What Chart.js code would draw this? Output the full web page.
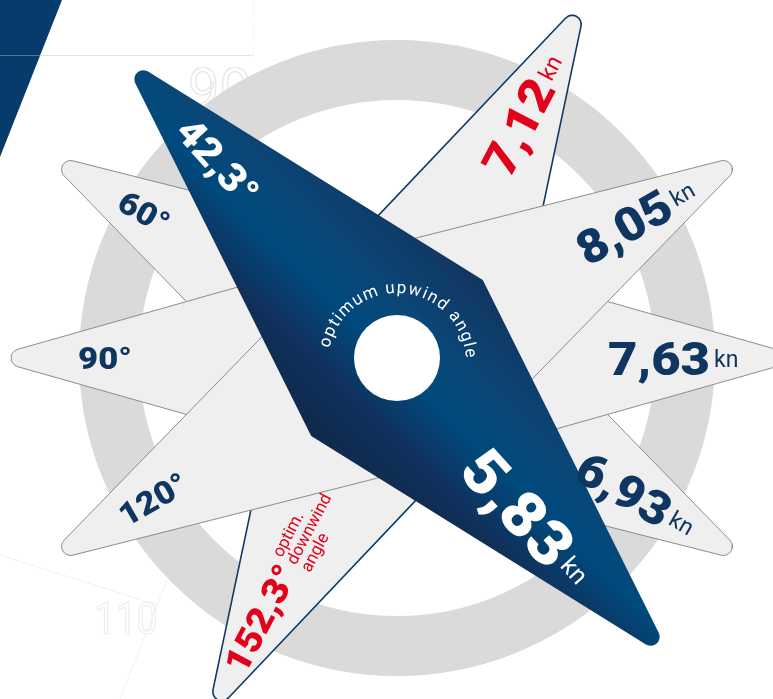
<!DOCTYPE html>
<html>
<head>
<meta charset="utf-8">
<script src="https://cdn.jsdelivr.net/npm/chart.js@4.4.1/dist/chart.umd.min.js"></script>
<style>
  html, body { margin: 0; padding: 0; background: #fff; overflow: hidden; }
  canvas { display: block; }
</style>
</head>
<body>
<canvas id="polar" width="773" height="699"></canvas>
<script>
// true wind angles (deg) and the boat speed (kn) sailed at each of them
const angles = [42.3, 60, 90, 120, 152.3];
const speeds = [5.83, 6.93, 7.63, 8.05, 7.12];
// which spike sits on top (0 = top)
const layer = [0, 3, 2, 1, 4];
// faint numbers left in the background
const ghostLabels = ['90', '110'];

const angleLabels = angles.map(a => String(a).replace('.', ',') + '°');
const speedLabels = speeds.map(s => s.toFixed(2).replace('.', ','));

const CX = 397, CY = 358;          // hub of the star, in px
const SPIKE_LEN = 410, DARK_LEN = 410, SPIKE_HALF = 116, TIP_R = 9;
const NAVY = '#0f3561', RED = '#e2001a';
const FONT = 'Roboto, "Open Sans", sans-serif';

// point at distance "along" on the angle side of a spike, "perp" across it
function unitAt(deg, along, perp) {
  const t = deg * Math.PI / 180;
  return {
    x: along * -Math.sin(t) + perp * Math.cos(t),
    y: along * Math.cos(t) + perp * Math.sin(t)
  };
}

// thin kite through the hub, rounded at both tips
function spikePoints(deg, len) {
  const a = Math.atan(SPIKE_HALF / len);
  const c = len - TIP_R / Math.sin(a);
  const pts = [];
  [1, -1].forEach(s => {
    for (let k = 0; k <= 8; k++) {
      const f = -(Math.PI / 2 - a) + k * (Math.PI - 2 * a) / 8;
      const p = unitAt(deg, s * (c + TIP_R * Math.cos(f)), s * TIP_R * Math.sin(f));
      pts.push(p);
    }
    pts.push(unitAt(deg, 0, s * SPIKE_HALF));
  });
  pts.push(pts[0]);
  return pts;
}

function darkFill(context) {
  const ch = context.chart;
  if (!ch.chartArea) return NAVY;
  const xs = ch.scales.x, ys = ch.scales.y;
  const p0 = unitAt(angles[0] + 3, 0, -125), p1 = unitAt(angles[0] + 3, 0, 125);
  const g = ch.ctx.createLinearGradient(xs.getPixelForValue(p0.x), ys.getPixelForValue(p0.y),
                                        xs.getPixelForValue(p1.x), ys.getPixelForValue(p1.y));
  g.addColorStop(0, '#0e2848');
  g.addColorStop(0.25, '#10305a');
  g.addColorStop(0.48, '#004a7d');
  g.addColorStop(0.68, '#0a4676');
  g.addColorStop(1, '#13335c');
  return g;
}

const datasets = angles.map((a, i) => ({
  label: angleLabels[i],
  data: spikePoints(a, i === 0 ? DARK_LEN : SPIKE_LEN),
  order: layer[i],
  fill: 'shape',
  backgroundColor: i === 0 ? darkFill : '#efefef',
  borderColor: i === 0 ? 'rgba(0,0,0,0)' : (i === 4 ? '#0d3a66' : '#8c8c8c'),
  borderWidth: i === 0 ? 0 : (i === 4 ? 1.6 : 1),
  borderJoinStyle: 'round',
  pointRadius: 0,
  tension: 0
}));
// grey ring behind the star
datasets.push({
  data: [{x: 0, y: 0}], order: 10, showLine: false, borderWidth: 0,
  pointRadius: 288, pointBorderWidth: 60,
  pointBorderColor: '#dadada', pointBackgroundColor: 'rgba(0,0,0,0)'
});
// hole in the hub
datasets.push({
  data: [{x: 0, y: 0}], order: -1, showLine: false, borderWidth: 0,
  pointRadius: 43, pointBorderWidth: 0,
  pointBorderColor: '#fff', pointBackgroundColor: '#fff'
});

function toPx(chart, deg, along, perp) {
  const p = unitAt(deg, along, perp);
  return [chart.scales.x.getPixelForValue(p.x), chart.scales.y.getPixelForValue(p.y)];
}

const SX = 1.08;
function stretchText(ctx, txt, x, y, size, weight, color, align) {
  ctx.font = weight + ' ' + size + 'px ' + FONT;
  const w = ctx.measureText(txt).width * SX;
  ctx.save();
  ctx.translate(x, y);
  ctx.scale(SX, 1);
  ctx.fillStyle = color;
  ctx.textAlign = align || 'center';
  ctx.fillText(txt, 0, 0);
  ctx.restore();
  return w;
}

const angleDist = [266, 292, 292, 282, 294];
const angleSize = [39, 32, 32, 32, 36];
const angleColor = ['#fff', NAVY, NAVY, NAVY, RED];
const speedDist = [192, 262, 262, 262, 261];
const speedPerp = [-11, 0, 0, 0, 0];
const speedSize = [62, 47, 47, 47, 47];
const speedColor = ['#fff', NAVY, NAVY, NAVY, RED];

const starLabels = {
  id: 'starLabels',
  beforeDatasetsDraw(chart) {
    const ctx = chart.ctx;
    ctx.save();
    // corner of the page decoration
    ctx.fillStyle = '#063b6b';
    ctx.beginPath();
    ctx.moveTo(0, 0); ctx.lineTo(62, 0); ctx.lineTo(0, 157); ctx.closePath();
    ctx.fill();
    ctx.strokeStyle = 'rgba(190,190,190,0.45)';
    ctx.lineWidth = 1;
    ctx.beginPath(); ctx.moveTo(0, 55.5); ctx.lineTo(253, 55.5); ctx.stroke();
    ctx.setLineDash([1, 2]);
    ctx.strokeStyle = '#ececec';
    ctx.beginPath(); ctx.moveTo(253.5, 0); ctx.lineTo(253.5, 62); ctx.stroke();
    ctx.setLineDash([]);
    ctx.strokeStyle = '#f0f0f0';
    ctx.beginPath(); ctx.moveTo(0, 555); ctx.lineTo(157, 605); ctx.stroke();
    ctx.beginPath(); ctx.moveTo(167, 580); ctx.lineTo(120, 699); ctx.stroke();
    // ghost numbers
    ctx.lineWidth = 1.2;
    ctx.strokeStyle = '#e6e6e6';
    ctx.font = '56px ' + FONT;
    ctx.textAlign = 'left';
    ctx.strokeText(ghostLabels[0], 188, 108);
    ctx.strokeStyle = '#ececec';
    ctx.font = '44px ' + FONT;
    ctx.textAlign = 'center';
    ctx.save(); ctx.translate(126, 634); ctx.scale(0.85, 1);
    ctx.strokeText(ghostLabels[1], 0, 0);
    ctx.restore();
    ctx.restore();
  },
  afterDatasetsDraw(chart) {
    const ctx = chart.ctx;
    ctx.save();
    ctx.textBaseline = 'alphabetic';
    angles.forEach((a, i) => {
      const rot = (90 - a) * Math.PI / 180;
      // angle label on the windward arm
      let [x, y] = toPx(chart, a, angleDist[i], 0);
      ctx.save();
      ctx.translate(x, y); ctx.rotate(rot);
      const sz = angleSize[i];
      const w = stretchText(ctx, angleLabels[i], 0, sz * 0.355, sz, '900', angleColor[i]);
      if (i === 4) {
        ['optim.', 'downwind', 'angle'].forEach((t, k) => {
          ctx.font = '17px ' + FONT;
          ctx.fillStyle = RED;
          ctx.textAlign = 'left';
          ctx.fillText(t, w / 2 + 5, -14 + k * 16 + 5);
        });
      }
      ctx.restore();
      // speed label on the opposite arm
      [x, y] = toPx(chart, a, -speedDist[i], speedPerp[i]);
      ctx.save();
      ctx.translate(x, y); ctx.rotate(rot);
      const ss = speedSize[i];
      const ws = stretchText(ctx, speedLabels[i], 0, ss * 0.355, ss, '900', speedColor[i]);
      const ks = i === 0 ? 25 : 23;
      ctx.font = ks + 'px ' + FONT;
      ctx.fillStyle = speedColor[i];
      ctx.textAlign = 'left';
      ctx.fillText('kn', ws / 2 + 4, ks * 0.37);
      ctx.restore();
    });
    // curved caption round the hub
    const cap = 'optimum upwind angle';
    const R = 69, a0 = -74.6 * Math.PI / 180, a1 = 83 * Math.PI / 180;
    ctx.font = '17px ' + FONT;
    const ws = [...cap].map(c => ctx.measureText(c).width);
    const base = ws.reduce((s, v) => s + v, 0) - ws[0] / 2 - ws[ws.length - 1] / 2;
    const gap = ((a1 - a0) * R - base) / (ws.length - 1);
    const hx = chart.scales.x.getPixelForValue(0), hy = chart.scales.y.getPixelForValue(-4);
    ctx.fillStyle = '#ffffff';
    ctx.textAlign = 'center';
    let arc = a0 * R;
    [...cap].forEach((c, k) => {
      if (k > 0) arc += ws[k - 1] / 2 + ws[k] / 2 + gap;
      ctx.save();
      ctx.translate(hx, hy);
      ctx.rotate(arc / R);
      ctx.fillText(c, 0, -R);
      ctx.restore();
    });
    ctx.restore();
  }
};

new Chart(document.getElementById('polar'), {
  type: 'line',
  data: { datasets },
  options: {
    responsive: false,
    animation: false,
    devicePixelRatio: 1,
    events: [],
    layout: { padding: 0, autoPadding: false },
    plugins: { legend: { display: false }, tooltip: { enabled: false } },
    scales: {
      x: { type: 'linear', min: -CX, max: 773 - CX, display: false },
      y: { type: 'linear', min: -(699 - CY), max: CY, display: false }
    }
  },
  plugins: [starLabels]
});
</script>
</body>
</html>
